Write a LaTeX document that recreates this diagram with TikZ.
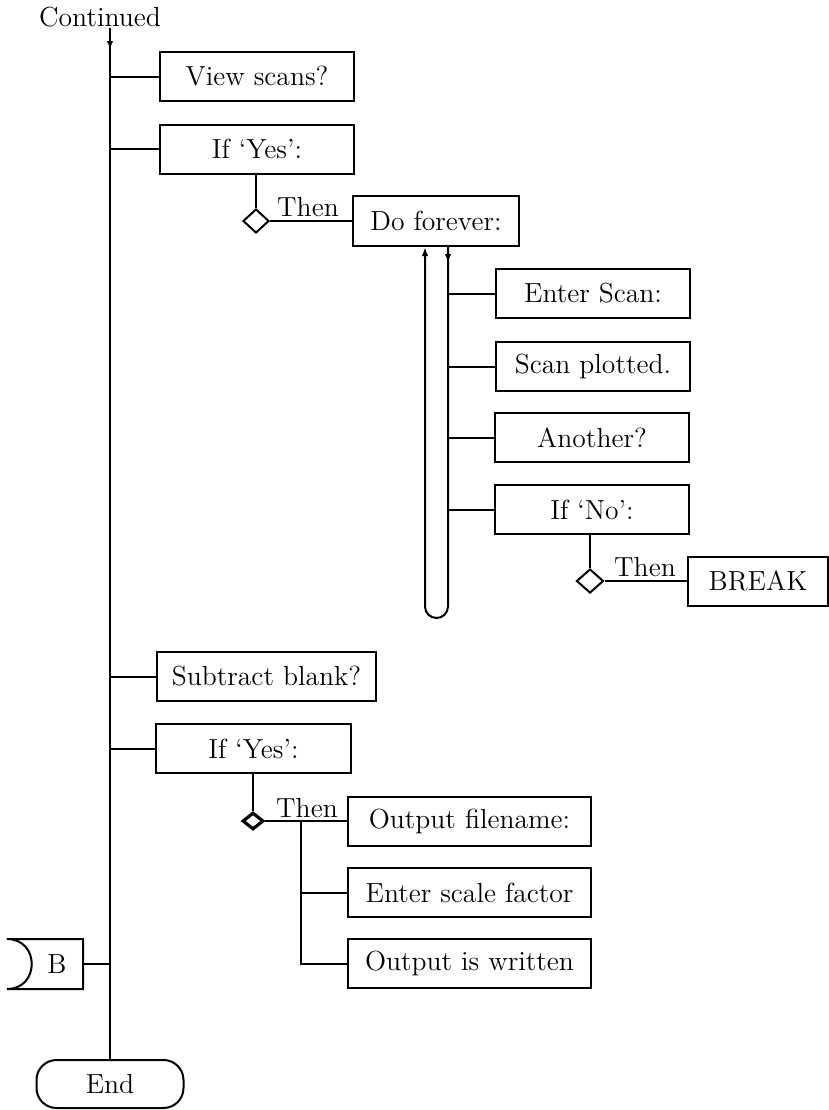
\documentclass[tikz,border=0pt]{standalone}
\usetikzlibrary{shapes.geometric,arrows.meta,decorations.markings,calc}
\begin{document}
\begin{tikzpicture}[x=0.5pt,y=-0.5pt, line width=1pt,
  every node/.style={font=\fontsize{13.8}{15}\selectfont},
  box/.style={draw, rectangle, inner sep=0pt, minimum height=24.5pt},
  dia/.style={draw, diamond, inner sep=0pt, minimum width=13pt, minimum height=12pt},
  tip/.style={-{Latex[length=4.5pt,width=3.2pt]}},
  midarrow/.style={postaction={decorate}, decoration={markings, mark=at position #1 with {\arrow{Latex[length=4.5pt,width=3.2pt]}}}}
  ]
\useasboundingbox (0,0) rectangle (829,1110);
% main column
\node (cont) at (100,17) {Continued};
\coordinate (tt) at (110,28);
\node[box, minimum width=97pt] (view) at (257,76.5) {View scans?};
\node[box, minimum width=97pt] (yes1) at (257,149) {If `Yes':};
\node[dia] (d1) at (256,221) {};
\node (then1) at (308,207) {Then};
\node[box, minimum width=83pt, minimum height=25pt] (dofor) at (436,221) {Do forever:};
% loop
\coordinate (lr) at ([xshift=6pt]dofor.south);
\coordinate (ll) at ([xshift=-5.5pt]dofor.south);
\node[box, minimum width=97pt] (enter) at (593,293.5) {Enter Scan:};
\node[box, minimum width=97pt] (plot) at (593,366.5) {Scan plotted.};
\node[box, minimum width=97pt] (another) at (592,437.5) {Another?};
\node[box, minimum width=97pt] (ifno) at (592,509.5) {If `No':};
\node[dia, minimum width=13.5pt] (d2) at (590,581) {};
\node (then2) at (645,567) {Then};
\node[box, minimum width=70pt] (brk) at (758,581) {BREAK};
% lower part
\node[box, minimum width=109.5pt] (sub) at (266.5,676.5) {Subtract blank?};
\node[box, minimum width=97.5pt] (yes2) at (253.5,748.5) {If `Yes':};
\node[dia, minimum width=10.5pt, minimum height=8.5pt, line width=1.6pt] (d3) at (253,821) {};
\node (then3) at (307,808) {Then};
\node[box, minimum width=121.5pt] (outfn) at (469.5,821) {Output filename:};
\node[box, minimum width=121.5pt] (scale) at (469.5,892.5) {Enter scale factor};
\node[box, minimum width=121.5pt] (written) at (469.5,963.5) {Output is written};
\coordinate (s) at (301,821);
% connector B
\node[inner sep=0pt, minimum width=37pt, minimum height=24pt] (B) at (45,964) {\hspace{12pt}B};
\draw (B.south west) -- (B.south east) -- (B.north east) -- (B.north west)
      .. controls +(16.5pt,0) and +(16.5pt,0) .. (B.south west);
% end
\node[draw, rounded corners=10pt, minimum width=73.5pt, minimum height=24pt] (end) at (110,1084) {End};

% connectors
\draw[midarrow=11pt] (tt) -- (end.north);
\draw (view.west) -- (view.west -| tt);
\draw (yes1.west) -- (yes1.west -| tt);
\draw (sub.west) -- (sub.west -| tt);
\draw (yes2.west) -- (yes2.west -| tt);
\draw (B.east) -- (B.east -| tt);

\draw (yes1.south -| d1) -- (d1.north);
\draw (d1.east) -- (d1.east -| dofor.west);

\draw[tip, midarrow=8pt, rounded corners=5.75pt] (lr) -- (lr |- 0,618) -- (ll |- 0,618) -- (ll);
\draw (enter.west) -- (enter.west -| lr);
\draw (plot.west) -- (plot.west -| lr);
\draw (another.west) -- (another.west -| lr);
\draw (ifno.west) -- (ifno.west -| lr);

\draw (ifno.south -| d2) -- (d2.north);
\draw (d2.east) -- (d2.east -| brk.west);

\draw (yes2.south -| d3) -- (d3.north);
\draw (d3.east) -- (d3.east -| outfn.west);
\draw (s) -- (written.west -| s) -- (written.west);
\draw (scale.west) -- (scale.west -| s);
\end{tikzpicture}
\end{document}
